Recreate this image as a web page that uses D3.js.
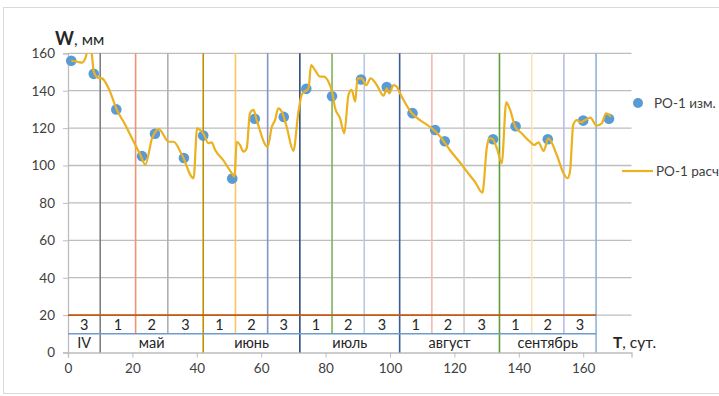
<!DOCTYPE html>
<html>
<head>
<meta charset="utf-8">
<script src="https://cdn.jsdelivr.net/npm/d3@7"></script>
<style>
  html, body { margin: 0; padding: 0; background: #fff; }
  svg { display: block; font-family: Lato, "Open Sans", sans-serif; }
</style>
</head>
<body>
<svg id="chart" width="719" height="396"></svg>
<script>
// Measured soil moisture reserve, РО-1 (day, mm)
const measDays = [1, 8, 15, 23, 27, 36, 42, 51, 58, 67, 74, 82, 91, 99, 107, 114, 117, 132, 139, 149, 160, 168];
const measW    = [156, 149, 130, 105, 117, 104, 116, 93, 125, 126, 141, 137, 146, 142, 128, 119, 113, 114, 121, 114, 124, 125];

// Calculated moisture reserve, РО-1 (day, mm)
const calcDays = [1, 3, 4.3, 5.3, 6.3, 6.9, 7.5, 8, 9.3, 10.6, 12.6, 15.2, 17.8, 20.4, 22.5, 24, 26.1, 28.2, 31.3, 32.8,
  35.4, 39, 40.1, 41.6, 42, 43.6, 44.6, 45.7, 48.2, 50.9, 51.7, 52.4, 53.4, 54.5, 55.5, 56.5, 57.6, 58.6, 62, 63.3,
  64.3, 65.3, 66.4, 67.9, 70, 71.5, 72.6, 74.7, 75.5, 76.7, 78.3, 79.3, 80.9, 82.2, 82.9, 84.5, 85.8, 87.1, 88.1, 89.2,
  89.9, 91.2, 92.6, 94, 95.9, 98, 99, 99.8, 101.1, 102.1, 103.1, 106.8, 109.3, 113, 115.6, 118.7, 121.8, 124.9, 126.5, 128.7, 130.1,
  130.8, 131.6, 133.2, 134.7, 136.1, 137.3, 138.9, 140.9, 143.5, 144.8, 146.1, 147.7, 149.2, 151.8, 153.9, 155.1, 155.9, 156.9,
  158, 159.2, 160.6, 162.2, 164.2, 165.8, 167.1, 168.6];
const calcW = [156, 155.5, 155, 157, 163, 165, 158, 150, 147, 146.6, 141.3, 129.7, 121.7, 112.7, 105.6, 100.5, 114.5, 119.5, 112.7, 112.7,
  105.6, 93.2, 119.9, 118, 117.2, 111.9, 112.4, 108.3, 102.9, 95.8, 94, 112.7, 111, 107.4, 109.2, 127.9, 129.7, 124.3, 110, 120.7,
  124.3, 130.6, 128.8, 120.7, 107.8, 127.9, 138, 141.3, 153.7, 151, 147.5, 147.5, 144.8, 138, 131, 125.2, 117.2, 137.7, 140.4, 134.1,
  146.6, 146.6, 143, 146.6, 143, 137.3, 141.3, 138.6, 143, 142.1, 138.6, 127.9, 124.3, 119.9, 115.4, 108, 101.5, 94.5, 91, 85.5, 110,
  114.5, 114.5, 109.2, 101.2, 133.8, 129.7, 120.7, 117.2, 112.7, 111, 112.4, 107.8, 114.5, 105.6, 95.8, 93.2, 96.7, 121.7,
  124.3, 123.1, 124.3, 125.6, 121.3, 122.6, 127.9, 126.1];

// Ten-day periods (dekads): boundaries, numbers and separator colours
const dekadBounds = [0, 10, 21, 31, 42, 52, 62, 72, 82, 92, 103, 113, 123, 134, 144, 154, 164];
const dekadLabels = ["3", "1", "2", "3", "1", "2", "3", "1", "2", "3", "1", "2", "3", "1", "2", "3"];
const dividerColors = ["#808080", "#ef9470", "#b0b0b0", "#bf9000", "#fdc65c", "#8096c6", "#2f4b7c", "#7fb25a",
  "#b7c9e6", "#3a5a98", "#f5b8b1", "#cfcfcf", "#5e9d3c", "#fbe0b8", "#b9bde6", "#8fb3d9"];

// Months
const monthBounds = [0, 10, 42, 72, 103, 134, 164];
const monthLabels = ["IV", "май", "июнь", "июль", "август", "сентябрь"];

const xTicks = [0, 20, 40, 60, 80, 100, 120, 140, 160];
const yTicks = [0, 20, 40, 60, 80, 100, 120, 140, 160];

const svg = d3.select("#chart");
const x = d3.scaleLinear().domain([0, 175]).range([68, 631.5]);
const y = d3.scaleLinear().domain([0, 160]).range([352.5, 53.3]);

// chart frame
svg.append("rect").attr("x", 3.5).attr("y", 7.5).attr("width", 740).attr("height", 386)
  .attr("fill", "none").attr("stroke", "#d9d9d9");

// horizontal grid
svg.append("g").selectAll("line").data(yTicks.filter(v => v > 0)).join("line")
  .attr("x1", x(0)).attr("x2", x(175)).attr("y1", d => y(d)).attr("y2", d => y(d))
  .attr("stroke", "#bdbdbd").attr("stroke-width", 1.3);

// x axis
const xAxis = svg.append("g").attr("transform", `translate(0,${y(0)})`)
  .call(d3.axisBottom(x).tickValues(xTicks).tickSize(5).tickPadding(6));
xAxis.select(".domain").attr("stroke", "#bdbdbd").attr("stroke-width", 1.3);
xAxis.selectAll(".tick line").attr("stroke", "#bdbdbd");
xAxis.selectAll("text").attr("font-size", 13.5).attr("fill", "#404040").attr("font-family", "Lato, sans-serif");

// y axis
const yAxis = svg.append("g").attr("transform", `translate(${x(0)},0)`)
  .call(d3.axisLeft(y).tickValues(yTicks).tickSize(5).tickPadding(8));
yAxis.select(".domain").attr("stroke", "#bdbdbd").attr("stroke-width", 1.3);
yAxis.selectAll(".tick line").attr("stroke", "#bdbdbd");
yAxis.selectAll("text").attr("font-size", 13.5).attr("fill", "#404040").attr("font-family", "Lato, sans-serif");

// dekad separators (month boundaries reach the axis, others stop at the month row)
const monthSet = new Set(monthBounds);
svg.append("g").selectAll("line").data(dekadBounds.slice(1)).join("line")
  .attr("x1", d => x(d)).attr("x2", d => x(d))
  .attr("y1", d => monthSet.has(d) ? y(0) : y(10)).attr("y2", y(160))
  .attr("stroke", (d, i) => dividerColors[i]).attr("stroke-width", 1.6);

// table rows
svg.append("line").attr("x1", x(0)).attr("x2", x(164)).attr("y1", y(20)).attr("y2", y(20))
  .attr("stroke", "#c55a11").attr("stroke-width", 1.6);
svg.append("line").attr("x1", x(0)).attr("x2", x(164)).attr("y1", y(10)).attr("y2", y(10))
  .attr("stroke", "#6d9ccf").attr("stroke-width", 1.6);

svg.append("g").selectAll("text").data(dekadLabels).join("text")
  .attr("x", (d, i) => x((dekadBounds[i] + dekadBounds[i + 1]) / 2))
  .attr("y", y(15)).attr("dy", "0.36em").attr("text-anchor", "middle")
  .attr("font-size", 14.5).attr("fill", "#262626").text(d => d);

svg.append("g").selectAll("text").data(monthLabels).join("text")
  .attr("x", (d, i) => x((monthBounds[i] + monthBounds[i + 1]) / 2))
  .attr("y", y(5)).attr("dy", "0.36em").attr("text-anchor", "middle")
  .attr("font-size", 14.5).attr("fill", "#262626").text(d => d);

// series
svg.append("clipPath").attr("id", "plot-clip").append("rect")
  .attr("x", x(0)).attr("y", y(160)).attr("width", x(175) - x(0)).attr("height", y(0) - y(160));

const meas = measDays.map((d, i) => ({ d, w: measW[i] }));
svg.append("g").selectAll("circle").data(meas).join("circle")
  .attr("cx", p => x(p.d)).attr("cy", p => y(p.w)).attr("r", 5.3)
  .attr("fill", "#5b9bd5");

const calc = calcDays.map((d, i) => ({ d, w: calcW[i] }));
svg.append("path").datum(calc)
  .attr("clip-path", "url(#plot-clip)")
  .attr("fill", "none").attr("stroke", "#ebb11e").attr("stroke-width", 2.2)
  .attr("stroke-linejoin", "round")
  .attr("d", d3.line().x(p => x(p.d)).y(p => y(p.w)).curve(d3.curveMonotoneX));

// axis titles
const wTitle = svg.append("text").attr("x", 55).attr("y", 45).attr("font-size", 16).attr("fill", "#262626");
wTitle.append("tspan").attr("font-weight", "bold").attr("font-size", 18).text("W");
wTitle.append("tspan").text(", мм");

const tTitle = svg.append("text").attr("x", 613).attr("y", 348).attr("font-size", 15.5).attr("fill", "#262626");
tTitle.append("tspan").attr("font-weight", "bold").text("T");
tTitle.append("tspan").text(", сут.");

// legend
const legend = svg.append("g");
legend.append("circle").attr("cx", 638).attr("cy", 103).attr("r", 5).attr("fill", "#5b9bd5");
legend.append("text").attr("x", 654).attr("y", 103).attr("dy", "0.36em").attr("font-size", 13.5)
  .attr("fill", "#404040").text("РО-1 изм.");
legend.append("line").attr("x1", 622).attr("x2", 653).attr("y1", 171).attr("y2", 171)
  .attr("stroke", "#ebb11e").attr("stroke-width", 2.2);
legend.append("text").attr("x", 656).attr("y", 171).attr("dy", "0.36em").attr("font-size", 13.5)
  .attr("fill", "#404040").text("РО-1 расч");
</script>
</body>
</html>
